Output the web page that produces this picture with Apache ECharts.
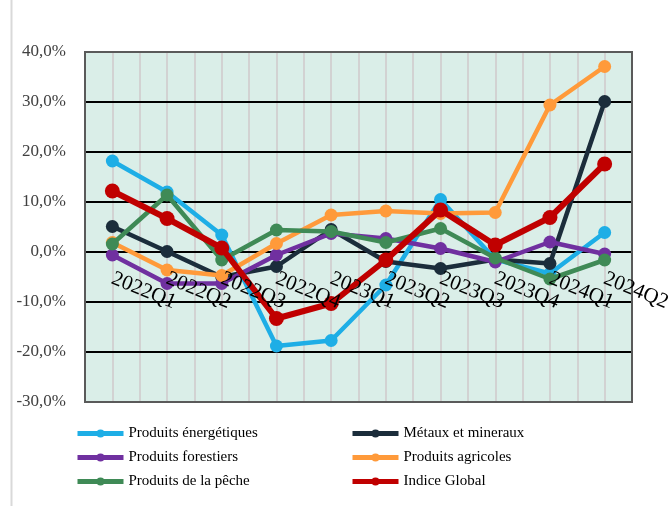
<!DOCTYPE html>
<html><head><meta charset="utf-8">
<script src="https://cdn.jsdelivr.net/npm/echarts@6/dist/echarts.min.js"></script>
<style>html,body{margin:0;padding:0;background:#fff}#c{width:669px;height:506px}</style>
</head><body><div id="c"></div>
<script>
const categories = ['2022Q1','2022Q2','2022Q3','2022Q4','2023Q1','2023Q2','2023Q3','2023Q4','2024Q1','2024Q2'];
const energetiques = [18.2, 12.0, 3.4, -18.8, -17.7, -6.6, 10.5, -1.5, -4.3, 3.9];
const metaux = [5.1, 0.1, -5.0, -2.9, 4.5, -1.9, -3.3, -1.5, -2.3, 30.1];
const forestiers = [-0.6, -6.3, -6.3, -0.6, 3.7, 2.7, 0.7, -2.0, 2.0, -0.4];
const agricoles = [1.9, -3.6, -4.7, 1.7, 7.4, 8.2, 7.7, 7.9, 29.4, 37.1];
const peche = [1.6, 11.4, -1.6, 4.4, 4.1, 1.9, 4.7, -1.2, -5.4, -1.6];
const indiceGlobal = [12.2, 6.7, 0.8, -13.3, -10.3, -1.6, 8.4, 1.4, 6.9, 17.6];
const seriesNames = ['Produits énergétiques','Métaux et mineraux','Produits forestiers','Produits agricoles','Produits de la pêche','Indice Global'];
const yTicks = {min: -30, max: 40, interval: 10};

const colors = ['#1eaee6','#1b2d3b','#7030a0','#ff9a3a','#3f8a56','#c00000'];
const datas = [energetiques, metaux, forestiers, agricoles, peche, indiceGlobal];
const font = 'Liberation Serif';
const G = {left: 85, right: 37, top: 52, bottom: 104};
const plotH = 506 - G.top - G.bottom;
// distance (px) from bottom of plot to the zero line
const zeroFromBottom = plotH * (0 - yTicks.min) / (yTicks.max - yTicks.min);

const chart = echarts.init(document.getElementById('c'), null, {renderer:'canvas'});
chart.setOption({
  animation: false,
  backgroundColor: '#fff',
  graphic: [
    {type:'line', shape:{x1:11.5,y1:0,x2:11.5,y2:506}, style:{stroke:'#d9d9d9', lineWidth:2}},
    {type:'rect', z: 4, silent: true, shape:{x:G.left, y:G.top, width:669-G.left-G.right, height:plotH},
     style:{fill:'none', stroke:'#5a5a5a', lineWidth:2}}
  ],
  grid: {left: G.left, right: G.right, top: G.top, bottom: G.bottom, show: true, backgroundColor: '#daeee8', borderWidth: 0,
         containLabel: false, outerBoundsMode: 'none'},
  legend: [
    {left: 70, top: 421, orient: 'vertical', itemWidth: 46, itemHeight: 10, itemGap: 9,
     lineStyle: {width: 5},
     data: [seriesNames[0], seriesNames[2], seriesNames[4]],
     textStyle: {fontFamily: font, fontSize: 15, color: '#000'}},
    {left: 345, top: 421, orient: 'vertical', itemWidth: 46, itemHeight: 10, itemGap: 9,
     lineStyle: {width: 5},
     data: [seriesNames[1], seriesNames[3], seriesNames[5]],
     textStyle: {fontFamily: font, fontSize: 15, color: '#000'}}
  ],
  xAxis: [
    {type: 'category', data: categories, boundaryGap: true, position: 'bottom', z: 20,
     axisLine: {show: false, onZero: false}, axisTick: {show: false}, splitLine: {show: false},
     axisLabel: {rotate: -22, margin: 26 - zeroFromBottom, fontFamily: font, fontSize: 21, color: '#000', interval: 0, hideOverlap: false}},
    {type: 'value', min: 0, max: 20, interval: 1, show: true, position: 'top',
     axisLine: {show: false, onZero: false}, axisTick: {show: false}, axisLabel: {show: false},
     splitLine: {show: true, lineStyle: {color: '#d2d2d2', width: 2}}}
  ],
  yAxis: {type: 'value', min: yTicks.min, max: yTicks.max, interval: yTicks.interval,
    axisLine: {show: false, onZero: false}, axisTick: {show: false}, z: 3,
    axisLabel: {margin: 19, fontFamily: font, fontSize: 17, color: '#404040',
      formatter: v => v.toFixed(1).replace('.', ',') + '%'},
    splitLine: {lineStyle: {color: '#000', width: 2}}},
  series: datas.map((d, i) => ({
    name: seriesNames[i], type: 'line', data: d, xAxisIndex: 0,
    symbol: 'circle', symbolSize: i === 5 ? 15 : 13,
    lineStyle: {color: colors[i], width: i === 5 ? 6 : 4.5},
    itemStyle: {color: colors[i]},
    z: 5 + i
  }))
});
</script></body></html>
